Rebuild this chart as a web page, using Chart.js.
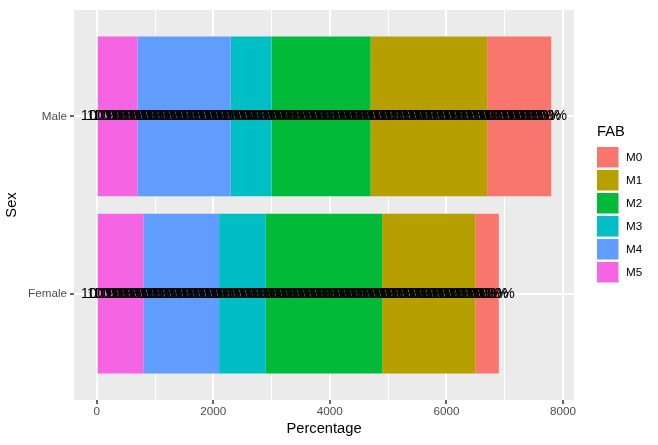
<!DOCTYPE html>
<html>
<head>
<meta charset="utf-8">
<script src="https://cdn.jsdelivr.net/npm/chart.js@4.4.1/dist/chart.umd.min.js"></script>
<style>
  body { margin: 0; background: #fff; }
</style>
</head>
<body>
<canvas id="fab-chart" width="658" height="445"></canvas>
<script>
// categories (top to bottom) and FAB series, stacked from the left (M5) to the right (M0)
const sexes = ['Male', 'Female'];
const fabLevels = ['M0', 'M1', 'M2', 'M3', 'M4', 'M5'];
const fabColors = ['#F8766D', '#B79F00', '#00BA38', '#00BFC4', '#619CFF', '#F564E3'];
const m0 = [1100, 400];
const m1 = [2000, 1600];
const m2 = [1700, 2000];
const m3 = [700, 800];
const m4 = [1600, 1300];
const m5 = [700, 800];
const xTicks = [0, 2000, 4000, 6000, 8000];
const xMinorTicks = [1000, 3000, 5000, 7000];
const recordValue = 100;      // each stacked record is one "100%" label
const recordLabel = '100%';

const seriesValues = [m0, m1, m2, m3, m4, m5];

Chart.defaults.font.family = '"Liberation Sans", Arial, sans-serif';

// stacking order: M5 first so that it sits at zero
const datasets = [];
for (let i = fabLevels.length - 1; i >= 0; i--) {
    datasets.push({
        label: fabLevels[i],
        data: seriesValues[i],
        backgroundColor: fabColors[i],
        borderWidth: 0,
        barPercentage: 0.9,
        categoryPercentage: 1.0
    });
}

const panelPlugin = {
    id: 'panel',
    beforeDraw(chart) {
        const {ctx, chartArea: a} = chart;
        ctx.save();
        ctx.fillStyle = '#EBEBEB';
        ctx.fillRect(a.left, a.top, a.right - a.left, a.bottom - a.top);
        ctx.restore();
    }
};

const recordLabelsPlugin = {
    id: 'recordLabels',
    afterDatasetsDraw(chart) {
        const {ctx, scales: {x, y}} = chart;
        ctx.save();
        ctx.fillStyle = '#000';
        ctx.font = '14.7px "Liberation Sans", Arial, sans-serif';
        ctx.textAlign = 'center';
        ctx.textBaseline = 'middle';
        sexes.forEach((s, i) => {
            const py = y.getPixelForValue(i);
            let start = 0;
            chart.data.datasets.forEach(ds => {
                const n = Math.round(ds.data[i] / recordValue);
                for (let k = 0; k < n; k++) {
                    const v = start + recordValue * (k + 0.5);
                    ctx.fillText(recordLabel, x.getPixelForValue(v), py);
                }
                start += ds.data[i];
            });
        });
        ctx.restore();
    }
};

const legendPlugin = {
    id: 'fabLegend',
    afterDraw(chart) {
        const ctx = chart.ctx;
        const left = 597;
        ctx.save();
        ctx.fillStyle = '#000';
        ctx.textBaseline = 'middle';
        ctx.textAlign = 'left';
        ctx.font = '14.7px "Liberation Sans", Arial, sans-serif';
        ctx.fillText('FAB', left, 132);
        ctx.font = '11.7px "Liberation Sans", Arial, sans-serif';
        fabLevels.forEach((lvl, i) => {
            const top = 147 + i * 23;
            ctx.fillStyle = fabColors[i];
            ctx.fillRect(left, top, 21.5, 20.5);
            ctx.fillStyle = '#000';
            ctx.fillText(lvl, left + 29, top + 11);
        });
        ctx.restore();
    }
};

const isMajor = v => xTicks.includes(v);

new Chart(document.getElementById('fab-chart'), {
    type: 'bar',
    data: {
        labels: sexes,
        datasets: datasets
    },
    options: {
        indexAxis: 'y',
        responsive: false,
        animation: false,
        layout: { padding: { top: 7, right: 84, bottom: 0, left: 0 } },
        plugins: {
            legend: { display: false },
            tooltip: { enabled: false }
        },
        scales: {
            x: {
                type: 'linear',
                stacked: true,
                min: -390,
                max: 8190,
                afterBuildTicks(scale) {
                    scale.ticks = xTicks.concat(xMinorTicks).sort((a, b) => a - b).map(v => ({ value: v }));
                },
                afterFit(scale) { scale.height = 45; },
                border: { display: false },
                grid: {
                    color: '#FFFFFF',
                    lineWidth: c => (c.tick && isMajor(c.tick.value)) ? 2 : 1,
                    tickColor: c => (c.tick && isMajor(c.tick.value)) ? '#333333' : 'rgba(0,0,0,0)',
                    tickLength: 4,
                    tickWidth: 1.5
                },
                ticks: {
                    autoSkip: false,
                    maxRotation: 0,
                    padding: 1,
                    color: '#4D4D4D',
                    font: { size: 11.7 },
                    callback: v => isMajor(v) ? String(v) : ''
                },
                title: {
                    display: true,
                    text: 'Percentage',
                    color: '#000',
                    font: { size: 14.7 },
                    padding: { top: 0, bottom: 7 }
                }
            },
            y: {
                type: 'category',
                stacked: true,
                offset: false,
                afterBuildTicks(scale) {
                    // discrete axis expansion of 0.6 on each side, like ggplot2
                    scale._startValue = -0.6;
                    scale._valueRange = sexes.length - 1 + 1.2;
                },
                afterFit(scale) { scale.width = 74; },
                border: { display: false },
                grid: {
                    offset: false,
                    color: '#FFFFFF',
                    lineWidth: 2,
                    tickColor: '#333333',
                    tickLength: 4,
                    tickWidth: 1.5
                },
                ticks: {
                    padding: 3,
                    color: '#4D4D4D',
                    font: { size: 11.7 }
                },
                title: {
                    display: true,
                    text: 'Sex',
                    color: '#000',
                    font: { size: 14.7 },
                    padding: { top: 3, bottom: 0 }
                }
            }
        }
    },
    plugins: [panelPlugin, recordLabelsPlugin, legendPlugin]
});
</script>
</body>
</html>
